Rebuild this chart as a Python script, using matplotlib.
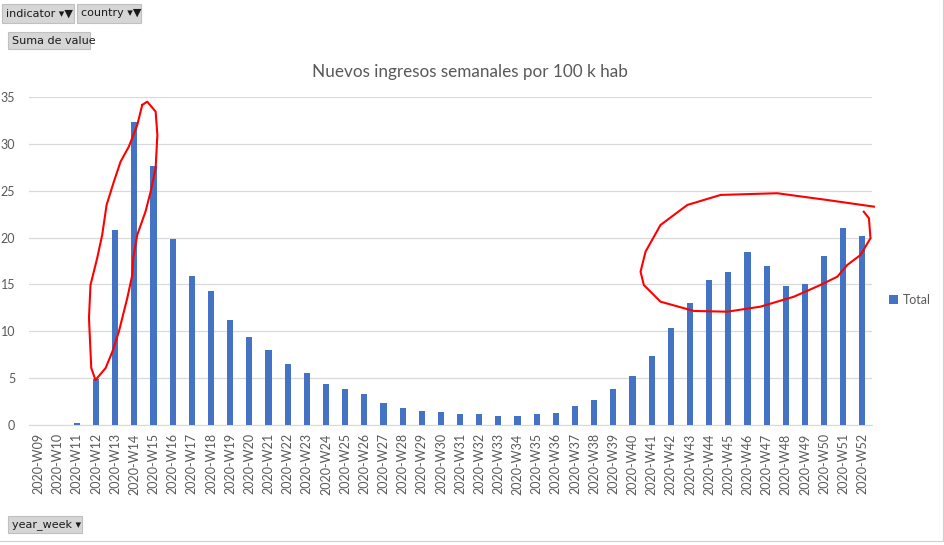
import matplotlib.pyplot as plt
import matplotlib.patches as mpatches
import numpy as np

plt.rcParams['font.family'] = ['Lato', 'DejaVu Sans']

weeks = ['2020-W%02d' % w for w in range(9, 53)]
values = [0, 0, 0.25, 4.9, 20.8, 32.3, 27.6, 19.9, 15.9, 14.3, 11.2, 9.4, 8.0,
          6.5, 5.55, 4.4, 3.85, 3.3, 2.35, 1.8, 1.5, 1.4, 1.2, 1.2, 1.0, 1.0,
          1.2, 1.3, 2.0, 2.7, 3.85, 5.2, 7.35, 10.35, 13.0, 15.5, 16.3, 18.45,
          17.0, 14.8, 15.05, 18.05, 21.0, 20.2]

# hand drawn red marks (category index, value)
loop1_x = [5.41, 5.67, 6.11, 6.20, 6.11, 5.85, 5.58, 5.15, 4.94, 4.89, 4.63, 4.19, 3.85,
           3.50, 2.97, 2.75, 2.63, 2.71, 3.06, 3.32, 3.55, 3.93, 4.28, 4.71, 5.15, 5.41]
loop1_y = [34.15, 34.5, 33.44, 30.95, 27.43, 24.9, 22.77, 20.28, 17.82, 16.0, 13.55, 9.96,
           7.82, 6.08, 4.8, 6.08, 11.42, 14.94, 17.82, 20.28, 23.48, 25.97, 28.1, 29.7, 32.0, 34.15]
loop2_x = [43.07, 43.34, 43.42, 42.9, 42.21, 41.69, 40.81, 39.42, 37.68, 35.94, 34.2, 32.46,
           31.59, 31.42, 31.68, 32.46, 33.86, 35.6, 38.55, 41.16, 43.6]
loop2_y = [22.76, 22.06, 19.93, 18.14, 17.08, 15.83, 14.94, 13.69, 12.63, 12.09, 12.17, 13.16,
           14.94, 16.36, 18.5, 21.34, 23.48, 24.55, 24.73, 24.01, 23.3]

W, H = 945, 545
fig = plt.figure(figsize=(W / 100, H / 100), dpi=100)
ax = fig.add_axes([29 / W, (H - 425) / H, (872 - 29) / W, (425 - 97) / H])

x = np.arange(len(weeks))
ax.bar(x, values, width=0.32, color='#4472C4', label='Total', zorder=3)
ax.set_xlim(-0.5, len(weeks) - 0.5)
ax.set_ylim(0, 35)
ax.set_yticks(range(0, 36, 5))
ax.set_xticks(x)
ax.set_xticklabels(weeks, rotation=90)
ax.tick_params(length=0, labelsize=9, colors='#595959')
ax.tick_params(axis='y', pad=10)
ax.tick_params(axis='x', pad=6)
ax.grid(axis='y', color='#d9d9d9', lw=0.9, zorder=0)
for s in ['top', 'right', 'left']:
    ax.spines[s].set_visible(False)
ax.spines['bottom'].set_color('#d9d9d9')

ax.plot(loop1_x, loop1_y, color='red', lw=1.5, clip_on=False, zorder=5)
ax.plot(loop2_x, loop2_y, color='red', lw=1.5, clip_on=False, zorder=5)

fig.text(470 / W, 1 - 72 / H, 'Nuevos ingresos semanales por 100 k hab', ha='center',
         va='center', fontsize=12.3, color='#595959')

ax.legend(loc='center left', bbox_to_anchor=(878 / W, 1 - 300 / H), bbox_transform=fig.transFigure,
          frameon=False, fontsize=9, labelcolor='#595959', handlelength=0.7, handleheight=0.7,
          handletextpad=0.4)

# pivot field buttons
def button(x0, y0, w, h, label):
    fig.patches.append(mpatches.Rectangle((x0 / W, 1 - (y0 + h) / H), w / W, h / H,
                                          transform=fig.transFigure, facecolor='#d6d6d6',
                                          edgecolor='#c0c0c0', lw=0.8))
    fig.text((x0 + 4) / W, 1 - (y0 + h / 2) / H, label, ha='left', va='center',
             fontsize=8, color='#1a1a1a', family=['DejaVu Sans'])

button(2, 4, 72, 19, 'indicator ▾▼')
button(77, 4, 64, 19, 'country ▾▼')
button(8, 32, 82, 17, 'Suma de value')
button(8, 516, 74, 17, 'year_week ▾')

fig.add_artist(plt.Line2D([0, 1], [1 - 541 / H] * 2, color='#d0d0d0', lw=0.8))
fig.add_artist(plt.Line2D([943 / W] * 2, [1 - 541 / H, 1], color='#d0d0d0', lw=0.8))

fig.savefig('out.png', dpi=100)
